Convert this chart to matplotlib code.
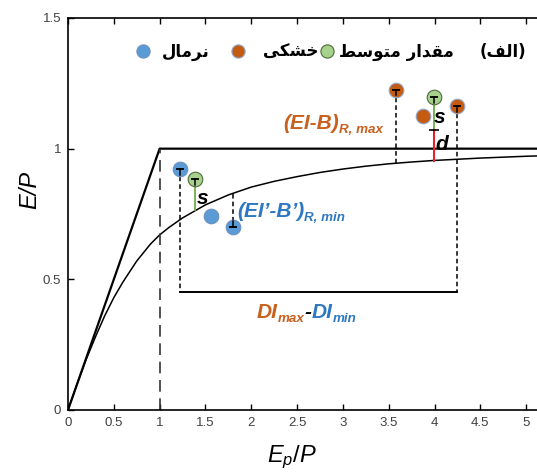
import matplotlib
matplotlib.use('Agg')
import matplotlib.pyplot as plt
import matplotlib.transforms as mtransforms

plt.rcParams['font.family'] = ['Liberation Sans', 'DejaVu Sans']
plt.rcParams['mathtext.fontset'] = 'custom'
plt.rcParams['mathtext.it'] = 'Liberation Sans:italic'
plt.rcParams['mathtext.rm'] = 'Liberation Sans'

# reference curve E/P against Ep/P
curve_x = [0, 0.1, 0.2, 0.3, 0.4, 0.5, 0.6, 0.75, 0.9, 1.0, 1.1, 1.25, 1.5, 1.75,
           2.0, 2.25, 2.5, 2.75, 3.0, 3.25, 3.5, 3.75, 4.0, 4.5, 5.0, 5.5]
curve_y = [0, 0.10, 0.195, 0.28, 0.36, 0.43, 0.49, 0.57, 0.635, 0.67, 0.698, 0.735,
           0.785, 0.823, 0.853, 0.875, 0.893, 0.909, 0.922, 0.933, 0.942, 0.949,
           0.955, 0.964, 0.971, 0.976]
# energy / water limits
limit_x = [0, 1, 5.5]
limit_y = [0, 1, 1]

# points
normal_x = [1.22, 1.56, 1.80]
normal_y = [0.923, 0.744, 0.700]
dry_x = [3.58, 3.87, 4.24]
dry_y = [1.226, 1.124, 1.162]
mean_x = [1.39, 3.99]
mean_y = [0.884, 1.197]
curve_at_mean = [0.766, 0.954]   # curve height under the mean points
curve_at_min = 0.825             # curve height above the lowest normal point
curve_at_max = 0.944             # curve height under the highest dry point
box_bottom = 0.453
d_top = 1.073

xticks = [0, 0.5, 1, 1.5, 2, 2.5, 3, 3.5, 4, 4.5, 5, 5.5]
xticklabels = ['0', '0.5', '1', '1.5', '2', '2.5', '3', '3.5', '4', '4.5', '5', '']
yticks = [0, 0.5, 1, 1.5]
yticklabels = ['0', '0.5', '1', '1.5']

BLUE = '#5B9BD5'
ORANGE = '#C55A11'
GREEN = '#A9D18E'
TXT_BLUE = '#2E78C2'
TXT_ORANGE = '#C8601E'

W, H = 537, 474
fig = plt.figure(figsize=(W / 100, H / 100), dpi=100)
ax = fig.add_axes([68 / W, 64 / H, 504 / W, 392 / H])
ax.set_xlim(0, 5.5)
ax.set_ylim(0, 1.5)

ax.plot(limit_x, limit_y, color='k', lw=1.6, zorder=2)
ax.plot(curve_x, curve_y, color='k', lw=1.1, zorder=2)
ax.plot([1, 1], [0, 1], color='#333333', lw=1.2, dashes=(7, 4), zorder=2)

dash = dict(color='k', lw=1.1, dashes=(3, 2), zorder=2)
# box of DI_max - DI_min
ax.plot([normal_x[0], normal_x[0]], [normal_y[0], box_bottom], **dash)
ax.plot([dry_x[2], dry_x[2]], [dry_y[2], box_bottom], **dash)
ax.plot([normal_x[0], dry_x[2]], [box_bottom, box_bottom], color='k', lw=1.4, zorder=2)
# (EI-B) lines
ax.plot([dry_x[0], dry_x[0]], [dry_y[0], curve_at_max], **dash)
ax.plot([normal_x[2], normal_x[2]], [curve_at_min, normal_y[2]], **dash)
# s and d
ax.plot([mean_x[0], mean_x[0]], [mean_y[0], curve_at_mean[0]], color='#70AD47', lw=1.3, zorder=2)
ax.plot([mean_x[1], mean_x[1]], [mean_y[1], d_top], color='#70AD47', lw=1.3, zorder=2)
ax.plot([mean_x[1], mean_x[1]], [d_top, curve_at_mean[1]], color='#E8202A', lw=1.5, zorder=2)
ax.plot([mean_x[1]], [d_top], marker='_', ms=7, mew=1.2, color='k', zorder=2)

ms = 10.5
ax.plot(normal_x, normal_y, 'o', ms=ms, mfc=BLUE, mec='#6C8FC0', mew=0.8, zorder=3)
ax.plot(dry_x, dry_y, 'o', ms=ms, mfc=ORANGE, mec='#8FA6C8', mew=0.8, zorder=3)
ax.plot(mean_x, mean_y, 'o', ms=ms, mfc=GREEN, mec='#4E6B3A', mew=0.8, zorder=3)

# caps inside the markers
cap_x = [normal_x[0], mean_x[0], dry_x[0], dry_x[2], mean_x[1]]
cap_y = [normal_y[0], mean_y[0], dry_y[0], dry_y[2], mean_y[1]]
for cx, cy in zip(cap_x, cap_y):
    ax.plot([cx], [cy], marker='_', ms=6, mew=1.3, color='k', zorder=4)
    ax.plot([cx, cx], [cy, cy - 0.022], color='k', lw=1.1, zorder=4)
ax.plot([normal_x[2]], [normal_y[2]], marker='_', ms=6, mew=1.3, color='k', zorder=4)
ax.plot([normal_x[2]] * 2, [normal_y[2], normal_y[2] + 0.022], color='k', lw=1.1, zorder=4)

ax.set_xticks(xticks)
ax.set_xticklabels(xticklabels)
ax.set_yticks(yticks)
ax.set_yticklabels(yticklabels)
ax.tick_params(direction='in', length=4, width=1, labelsize=9.5,
               labelcolor='#404040', top=True, pad=5)
for sp in ax.spines.values():
    sp.set_linewidth(1.2)

ax.set_xlabel('$E_p/P$', fontsize=17)
ax.xaxis.set_label_coords(0.444, -0.085)
ax.set_ylabel('E/P', fontsize=17, style='italic')
ax.yaxis.set_label_coords(-0.075, 0.561)
ax.yaxis.label.set_va('center')

renderer = fig.canvas.get_renderer()
ident = mtransforms.IdentityTransform()


def chain(x, y, pieces, size=15):
    x0, y0 = ax.transData.transform((x, y))
    for s, color, sub in pieces:
        fs = size * 0.64 if sub else size
        t = fig.text(x0, y0 - (4 if sub else 0), s, transform=ident, color=color,
                     fontsize=fs, fontweight='bold', style='italic',
                     va='baseline', ha='left')
        x0 += t.get_window_extent(renderer).width


chain(2.35, 1.077, [('(EI-B)', TXT_ORANGE, False), ('R, max', TXT_ORANGE, True)])
chain(1.845, 0.739, [('(EI\u2019-B\u2019)', TXT_BLUE, False), ('R, min', TXT_BLUE, True)])
chain(2.06, 0.352, [('DI', TXT_ORANGE, False), ('max', TXT_ORANGE, True),
                    ('-', 'k', False), ('DI', TXT_BLUE, False), ('min', TXT_BLUE, True)])

lab = dict(fontsize=15, fontweight='bold', style='italic', ha='center', va='center', color='k')
ax.text(1.47, 0.81, 's', **lab)
ax.text(4.06, 1.12, 's', **lab)
ax.text(4.08, 1.015, 'd', **lab)

# legend (Persian, pre-shaped presentation forms in visual order)
leg_x = [0.82, 1.85, 2.83]
leg_y = 1.372
ax.plot([leg_x[0]], [leg_y], 'o', ms=9.5, mfc=BLUE, mec='#6C8FC0', mew=0.8, clip_on=False)
ax.plot([leg_x[1]], [leg_y], 'o', ms=9.5, mfc=ORANGE, mec='#8FA6C8', mew=0.8, clip_on=False)
ax.plot([leg_x[2]], [leg_y], 'o', ms=9.5, mfc=GREEN, mec='#4E6B3A', mew=0.8, clip_on=False)
leg_font = dict(fontsize=12, fontweight='bold', family=['DejaVu Sans'], va='baseline',
                transform=ident)
labels_persian = [
    (210, 'right', '\uFEDD\uFE8E\uFEE3\uFEAE\uFEE7'),                                   # نرمال
    (318, 'right', '\uFBFD\uFB91\uFEB8\uFEA7'),                                         # خشکی
    (339, 'left', '\uFEC2\uFEB3\uFEEE\uFE98\uFEE3 \uFEAD\uFE8D\uFEAA\uFED8\uFEE3'),    # مقدار متوسط
    (526, 'right', '(\uFED2\uFEDF\uFE8D)'),                                             # (الف)
]
for lx, ha, s in labels_persian:
    fig.text(lx, H - 57, s, ha=ha, **leg_font)

fig.savefig('out.png', dpi=100)
